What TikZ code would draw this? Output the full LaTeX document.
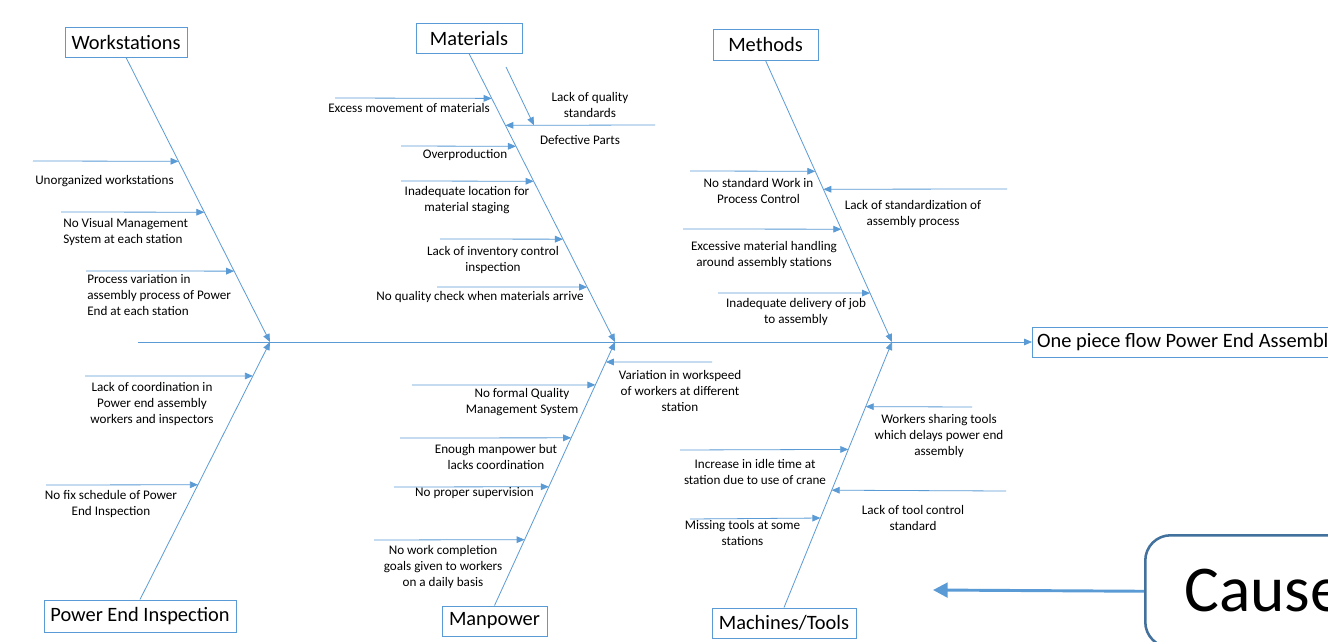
\documentclass[tikz,border=0pt]{standalone}
\usepackage{fontspec}
\setmainfont{Carlito}
\usetikzlibrary{arrows.meta,calc}
\definecolor{lblue}{HTML}{5B9BD5}
\definecolor{dblue}{HTML}{41719C}
\begin{document}
\begin{tikzpicture}[x=0.75pt,y=-0.75pt,
  line/.style={draw=lblue, line width=0.6pt},
  arr/.style={line, -{Triangle[length=6pt,width=5pt]}},
  catbox/.style={draw=lblue, line width=0.7pt, inner sep=0pt, font=\fontsize{15.3}{18}\selectfont, minimum height=22.5pt},
  lbl/.style={font=\fontsize{9.85}{12}\selectfont, align=center, inner sep=0pt},
  lbll/.style={lbl, align=left, anchor=west}]
\useasboundingbox (0,0) rectangle (1328,642);
\fill[white] (0,0) rectangle (1328,642);
\clip (0,0) rectangle (1328,642);

% category boxes
\node[catbox, minimum width=91.5pt] (ws) at (126,42) {Workstations};
\node[catbox, minimum width=79.5pt] (mat) at (469,38) {Materials};
\node[catbox, minimum width=78.75pt, minimum height=23.25pt] (meth) at (765.5,44.5) {Methods};
\node[catbox, minimum width=144pt, minimum height=24pt] (pei) at (140,616) {Power End Inspection};
\node[catbox, minimum width=78.75pt] (man) at (494.5,621) {Manpower};
\node[catbox, minimum width=108pt] (mt) at (784,623) {Machines/Tools};
\node[catbox, anchor=west, inner xsep=0pt] (res) at (1032,342) {\makebox[330pt][l]{\hspace{3.5pt}One piece flow Power End Assembly}};

% spine
\coordinate (tail) at (138,342);
\draw[arr] (tail) -- (res.west);

% branch junctions
\coordinate (jw) at (270,342);
\coordinate (jm) at (615,342);
\coordinate (jt) at (892,342);
\draw[arr] (ws.south) -- (jw);
\draw[arr] (pei.north) -- (jw);
\draw[arr] (mat.south) -- (jm);
\draw[arr] (man.north) -- (jm);
\draw[arr] (meth.south) -- (jt);
\draw[arr] (mt.north) -- (jt);

% ---- Workstations
\coordinate (w1) at ($(ws.south)!0.3649!(jw)$);
\coordinate (w2) at ($(ws.south)!0.5439!(jw)$);
\coordinate (w3) at ($(ws.south)!0.7509!(jw)$);
\coordinate (w1s) at (33,161);
\coordinate (w2s) at (61,212);
\coordinate (w3s) at (86,271);
\draw[arr] (w1s) -- (w1);
\draw[arr] (w2s) -- (w2);
\draw[arr] (w3s) -- (w3);
\node[lbll] (tw1) at (35,181) {Unorganized workstations};
\node[lbll] (tw2) at (63,232) {No Visual Management\\System at each station};
\node[lbll] (tw3) at (87,295.5) {Process variation in\\assembly process of Power\\End at each station};

% ---- Power End Inspection
\coordinate (p1) at ($(pei.north)!0.8682!(jw)$);
\coordinate (p2) at ($(pei.north)!0.4457!(jw)$);
\coordinate (p1s) at (85,376);
\coordinate (p2s) at (46,485);
\draw[arr] (p1s) -- (p1);
\draw[arr] (p2s) -- (p2);
\node[lbl] (tp1) at (152,404) {Lack of coordination in\\Power end assembly\\workers and inspectors};
\node[lbl] (tp2) at (111,503.5) {No fix schedule of Power\\End Inspection};

% ---- Materials
\coordinate (m1) at ($(mat.south)!0.1557!(jm)$);
\coordinate (dp) at ($(mat.south)!0.2491!(jm)$);
\coordinate (m2) at ($(mat.south)!0.3218!(jm)$);
\coordinate (m3) at ($(mat.south)!0.4429!(jm)$);
\coordinate (m4) at ($(mat.south)!0.6436!(jm)$);
\coordinate (m5) at ($(mat.south)!0.8097!(jm)$);
\coordinate (m1s) at (335,98);
\coordinate (dps) at (655,125);
\coordinate (m2s) at (401,146);
\coordinate (m3s) at (401,181);
\coordinate (m4s) at (440,239);
\coordinate (m5s) at (437,287);
\coordinate (lq) at ($(dps)!0.809!(dp)$);
\coordinate (lqs) at (506,67);
\draw[arr] (m1s) -- (m1);
\draw[arr] (dps) -- (dp);
\draw[arr] (lqs) -- (lq);
\draw[arr] (m2s) -- (m2);
\draw[arr] (m3s) -- (m3);
\draw[arr] (m4s) -- (m4);
\draw[arr] (m5s) -- (m5);
\node[lbl] (tlq) at (590,104.5) {Lack of quality\\standards};
\node[lbl] (tdp) at (580,140) {Defective Parts};
\node[lbl] (tm1) at (409,108) {Excess movement of materials};
\node[lbl] (tm2) at (465,155) {Overproduction};
\node[lbl] (tm3) at (467,200) {Inadequate location for\\material staging};
\node[lbl] (tm4) at (493,260) {Lack of inventory control\\inspection};
\node[lbl] (tm5) at (480,297) {No quality check when materials arrive};

% ---- Methods
\coordinate (e1) at ($(meth.south)!0.3936!(jt)$);
\coordinate (e2) at ($(meth.south)!0.4574!(jt)$);
\coordinate (e3) at ($(meth.south)!0.5993!(jt)$);
\coordinate (e4) at ($(meth.south)!0.8262!(jt)$);
\coordinate (e1s) at (690,171);
\coordinate (e2s) at (1007,189);
\coordinate (e3s) at (683,229);
\coordinate (e4s) at (718,293);
\draw[arr] (e1s) -- (e1);
\draw[arr] (e2s) -- (e2);
\draw[arr] (e3s) -- (e3);
\draw[arr] (e4s) -- (e4);
\node[lbl] (te1) at (758.5,191) {No standard Work in\\Process Control};
\node[lbl] (te2) at (913,213.5) {Lack of standardization of\\assembly process};
\node[lbl] (te3) at (764,255) {Excessive material handling\\around assembly stations};
\node[lbl] (te4) at (796,312) {Inadequate delivery of job\\to assembly};

% ---- Manpower
\coordinate (n0) at ($(man.north)!0.9242!(jm)$);
\coordinate (n1) at ($(man.north)!0.8371!(jm)$);
\coordinate (n2) at ($(man.north)!0.6364!(jm)$);
\coordinate (n3) at ($(man.north)!0.4508!(jm)$);
\coordinate (n4) at ($(man.north)!0.25!(jm)$);
\coordinate (n0s) at (712,362);
\coordinate (n1s) at (412,385);
\coordinate (n2s) at (400,438);
\coordinate (n3s) at (394,487);
\coordinate (n4s) at (374,540);
\draw[arr] (n0s) -- (n0);
\draw[arr] (n1s) -- (n1);
\draw[arr] (n2s) -- (n2);
\draw[arr] (n3s) -- (n3);
\draw[arr] (n4s) -- (n4);
\node[lbl] (tn0) at (680,391) {Variation in workspeed\\of workers at different\\station};
\node[lbl] (tn1) at (522,402.5) {No formal Quality\\Management System};
\node[lbl] (tn2) at (496,457) {Enough manpower but\\lacks coordination};
\node[lbl] (tn3) at (474.5,493) {No proper supervision};
\node[lbl] (tn4) at (443,567) {No work completion\\goals given to workers\\on a daily basis};

% ---- Machines/Tools
\coordinate (t1) at ($(mt.north)!0.7566!(jt)$);
\coordinate (t2) at ($(mt.north)!0.5955!(jt)$);
\coordinate (t3) at ($(mt.north)!0.4419!(jt)$);
\coordinate (t4) at ($(mt.north)!0.3371!(jt)$);
\coordinate (t1s) at (972,407);
\coordinate (t2s) at (680,450);
\coordinate (t3s) at (1006,491);
\coordinate (t4s) at (690,519);
\draw[arr] (t1s) -- (t1);
\draw[arr] (t2s) -- (t2);
\draw[arr] (t3s) -- (t3);
\draw[arr] (t4s) -- (t4);
\node[lbl] (tt1) at (939,436) {Workers sharing tools\\which delays power end\\assembly};
\node[lbl] (tt2) at (755,472) {Increase in idle time at\\station due to use of crane};
\node[lbl] (tt3) at (913,518) {Lack of tool control\\standard};
\node[lbl] (tt4) at (742.5,533) {Missing tools at some\\stations};

% ---- Cause callout
\node[draw=dblue, line width=1.9pt, rounded corners=19pt, anchor=north west,
      minimum width=200pt, minimum height=84pt, inner sep=0pt] (cbox) at (1144,534) {};
\node[anchor=base west, inner sep=0pt, font=\fontsize{49}{58}\selectfont] (ctxt) at (1184,611) {Cause};
\coordinate (carr) at (933,590);
\draw[draw=lblue, line width=2.2pt, -{Triangle[length=11pt,width=11pt]}] (cbox.west) -- (carr);
\end{tikzpicture}
\end{document}
